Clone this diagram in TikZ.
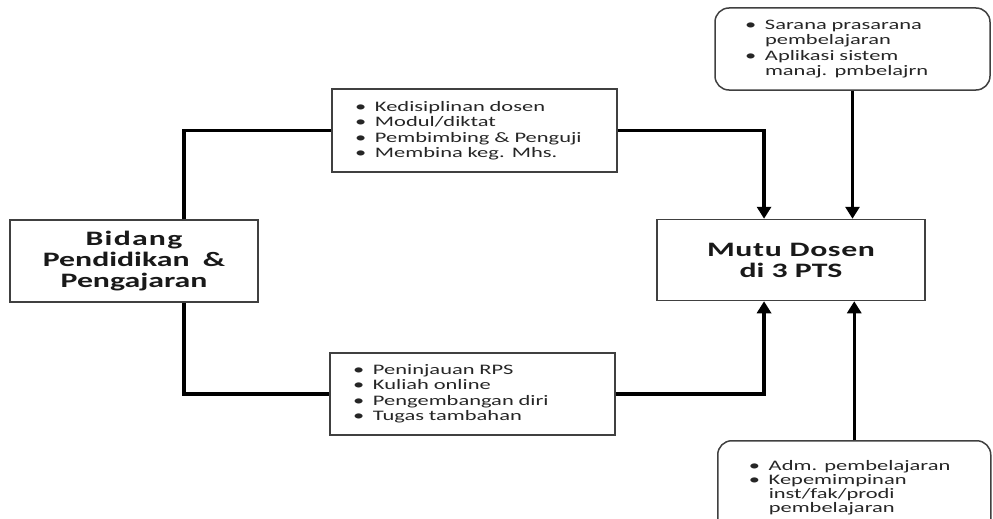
\documentclass[tikz,border=0pt]{standalone}
\usepackage{fontspec}
\setmainfont{Carlito}[FakeStretch=1.55]
\usetikzlibrary{arrows.meta, positioning, calc}

\newcommand{\itm}{\makebox[20pt][l]{\textbullet}}
\newcommand{\cnt}{\hspace*{20pt}}

\begin{document}
\begin{tikzpicture}[
            x = 1pt, y = -1pt, % pixel grid of the sketch
            > = {Triangle[width=14pt, length=12pt]}, % arrow head style
            line width = 3.5pt % connector style
        ]

        \tikzstyle{box}=[
            draw = black!75,
            line width = 1.5pt,
            fill = white,
            inner sep = 0pt
        ]
        \tikzstyle{main}=[box, align = center, text = black!90,
            font = \fontsize{20.5}{21}\selectfont\bfseries]
        \tikzstyle{list}=[box, align = left, text = black!85,
            font = \fontsize{14.5}{15.5}\selectfont]
        \tikzstyle{note}=[list, rounded corners = 14pt]

        \useasboundingbox (0,0) rectangle (993,519);

        \node[main, minimum width = 248pt, minimum height = 82pt] (bidang) at (134,261)
            {\addfontfeature{LetterSpace=6}Bidang\\Pendidikan\hspace{6pt} \&\\Pengajaran};
        \node[main, minimum width = 268pt, minimum height = 81pt] (mutu) at (791,260)
            {\addfontfeature{LetterSpace=3}Mutu Dosen\\di 3 PTS};

        \node[list, text width = 239pt, inner xsep = 23pt, minimum height = 83pt] (ktop) at (474.5,130.5)
            {\itm Kedisiplinan dosen\\ \itm Modul/diktat\\ \itm Pembimbing \& Penguji\\ \itm Membina keg. Mhs.};
        \node[list, text width = 239pt, inner xsep = 23pt, minimum height = 82pt] (kbot) at (472.5,394)
            {\itm Peninjauan RPS\\ \itm Kuliah online\\ \itm Pengembangan diri\\ \itm Tugas tambahan};

        \node[note, text width = 215pt, inner xsep = 30pt, minimum height = 82pt] (rtop) at (852.5,49)
            {\itm Sarana prasarana\\ \cnt pembelajaran\\ \itm Aplikasi sistem\\ \cnt manaj. pmbelajrn};
        \node[note, text width = 211pt, inner xsep = 31pt, inner ysep = 20pt, anchor = north west,
            font = \fontsize{14.5}{13.8}\selectfont] (rbot) at (717,440)
            {\itm Adm. pembelajaran\\ \itm Kepemimpinan\\ \cnt inst/fak/prodi\\ \cnt pembelajaran};

        \draw (bidang.40) |- (ktop.west);
        \draw (bidang.-40) |- (kbot.west);
        \draw[->] (ktop.east) -| ($(mutu.north west)!0.4!(mutu.north east)$);
        \draw[->] (kbot.east) -| ($(mutu.south west)!0.4!(mutu.south east)$);
        \draw[->] (rtop.south) -- (rtop.south |- mutu.north);
        \draw[->] (rbot.north) -- (rbot.north |- mutu.south);

    \end{tikzpicture}
\end{document}
